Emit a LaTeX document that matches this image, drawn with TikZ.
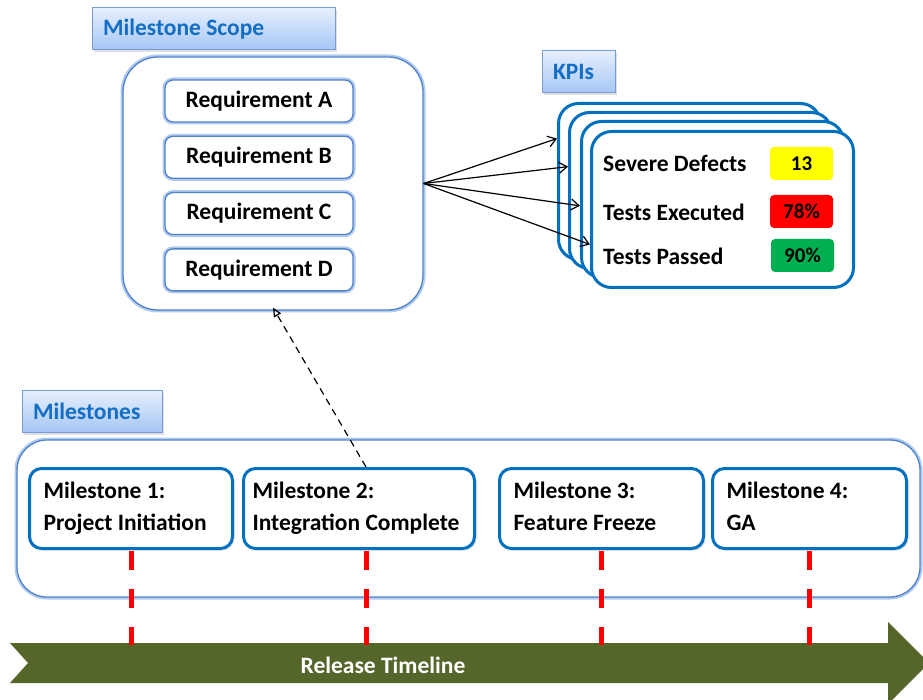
\documentclass[tikz,border=0pt]{standalone}
\usepackage{fontspec}
\setmainfont{Carlito}
\usetikzlibrary{arrows.meta,positioning,calc,shadows}
\definecolor{kpiblue}{RGB}{0,112,192}
\definecolor{tagtext}{RGB}{20,110,195}
\definecolor{tagtop}{RGB}{230,239,253}
\definecolor{tagbottom}{RGB}{165,198,245}
\definecolor{tagedge}{RGB}{120,155,215}
\definecolor{glowblue}{RGB}{150,185,232}
\definecolor{softblue}{RGB}{80,130,205}
\definecolor{timelinegreen}{RGB}{84,102,42}
\definecolor{kpiyellow}{RGB}{255,255,0}
\definecolor{kpired}{RGB}{255,0,0}
\definecolor{kpigreen}{RGB}{0,176,80}
\newcommand{\diagfont}{\fontsize{23.5}{32}\selectfont\bfseries}
\newcommand{\valuefont}{\fontsize{21}{24}\selectfont\bfseries}
\tikzset{
	every node/.style={
		font=\diagfont
	},
	tagbox/.style={
		shape=rectangle,
		minimum height=42pt,
		text width=#1,
		align=flush left,
		inner xsep=11pt,
		top color=tagtop,
		bottom color=tagbottom,
		draw=tagedge,
		line width=1pt,
		text=tagtext,
		drop shadow={shadow xshift=2pt, shadow yshift=-2pt, opacity=0.25}
	},
	glowbox/.style={
		preaction={draw=glowblue, line width=5pt, opacity=0.75},
		draw=softblue,
		line width=1.3pt,
		fill=white
	},
	scopebox/.style={
		glowbox,
		rounded corners=35pt,
		minimum width=300pt,
		minimum height=253pt
	},
	reqbox/.style={
		glowbox,
		rounded corners=8pt,
		minimum width=188pt,
		minimum height=42pt
	},
	msbox/.style={
		draw=kpiblue,
		line width=3pt,
		fill=white,
		rounded corners=12pt,
		minimum height=80pt,
		text width=#1,
		align=flush left,
		inner xsep=14pt,
		anchor=north west,
		execute at begin node=\strut,
		execute at end node=\strut,
		drop shadow={shadow xshift=2pt, shadow yshift=-2pt, opacity=0.25}
	},
	kpicard/.style={
		draw=kpiblue,
		line width=3pt,
		fill=white,
		rounded corners=20pt,
		minimum width=262pt,
		minimum height=156pt
	},
	kpitext/.style={anchor=west, inner sep=0pt},
	kpivalue/.style={
		fill=#1,
		rounded corners=4pt,
		minimum width=63pt,
		minimum height=33pt,
		inner sep=0pt,
		font=\valuefont
	},
	kpilink/.style={-{Straight Barb[length=8pt,width=11pt]}, line width=1.2pt},
	tracelink/.style={-{Triangle[open,length=9pt,width=8pt]}, line width=1.2pt, dash pattern=on 7pt off 5pt},
	msline/.style={draw=red, line width=5pt, dash pattern=on 19pt off 19pt}
}

\begin{document}
\begin{tikzpicture}[x=1pt,y=-1pt]
	\useasboundingbox (0,0) rectangle (923,700);
	\clip (0,0) rectangle (923,700);
	
	% Milestone scope
	\node[scopebox] (scope) at (273,183.5) {};
	\node[tagbox=221pt] (scopetag) at (213.5,29) {Milestone Scope};
	\node[reqbox] (reqA) at (259,101) {Requirement A};
	\node[reqbox, below=13pt of reqA] (reqB) {Requirement B};
	\node[reqbox, below=13pt of reqB] (reqC) {Requirement C};
	\node[reqbox, below=13pt of reqC] (reqD) {Requirement D};
	
	% KPI cards
	\node[tagbox=51pt] (kpitag) at (578.5,72) {KPIs};
	\foreach \cx/\cy/\n in {557/102/1, 568/111/2, 580/120/3, 590/130/4}
		\node[kpicard, anchor=north west] (card\n) at (\cx,\cy) {};
	
	\node[kpitext] (sevlabel) at (603,163) {Severe Defects};
	\node[kpitext] (execlabel) at (603,212) {Tests Executed};
	\node[kpitext] (passlabel) at (603,256) {Tests Passed};
	\node[kpivalue=kpiyellow] (sevvalue) at (801.5,163.5) {13};
	\node[kpivalue=kpired] (execvalue) at (801.5,211.5) {78\%};
	\node[kpivalue=kpigreen] (passvalue) at (802.5,255.5) {90\%};
	
	\draw[kpilink] (scope.east) -- ($(card1.north west)!0.23!(card1.south west)$);
	\draw[kpilink] (scope.east) -- ($(card2.north west)!0.35!(card2.south west)$);
	\draw[kpilink] (scope.east) -- ($(card3.north west)!0.54!(card3.south west)$);
	\draw[kpilink] (scope.east) -- ($(card4.north west)!0.72!(card4.south west)$);
	
	% Milestones
	\node[glowbox, rounded corners=30pt, minimum width=903pt, minimum height=157pt] (milestones) at (468.5,518.5) {};
	\node[tagbox=118pt] (mstag) at (92,411.5) {Milestones};
	\node[msbox=175pt] (ms1) at (28,467) {Milestone 1:\\Project Initiation};
	\node[msbox=213pt, inner xsep=9pt] (ms2) at (242,467) {Milestone 2:\\Integration Complete};
	\node[msbox=176pt] (ms3) at (498,467) {Milestone 3:\\Feature Freeze};
	\node[msbox=166pt] (ms4) at (711,467) {Milestone 4:\\GA};
	
	% Release timeline
	\fill[timelinegreen] (10,643) -- (888,643) -- (888,622) -- (929,663) -- (888,704)
		-- (888,683) -- (10,683) -- (28,663) -- cycle;
	\node[text=white] (timeline) at (383,665) {Release Timeline};
	\coordinate (tltop) at (0,645);
	
	\draw[msline] ([yshift=-1pt]ms1.south) -- (ms1.south |- tltop);
	\draw[msline] ([xshift=7pt,yshift=-1pt]ms2.south) -- ([xshift=7pt]ms2.south |- tltop);
	\draw[msline] ([yshift=-1pt]ms3.south) -- (ms3.south |- tltop);
	\draw[msline] ([yshift=-1pt]ms4.south) -- (ms4.south |- tltop);
	
	\draw[tracelink] ([xshift=7pt]ms2.north) -- ([yshift=3pt]scope.south);
	
\end{tikzpicture}
\end{document}
